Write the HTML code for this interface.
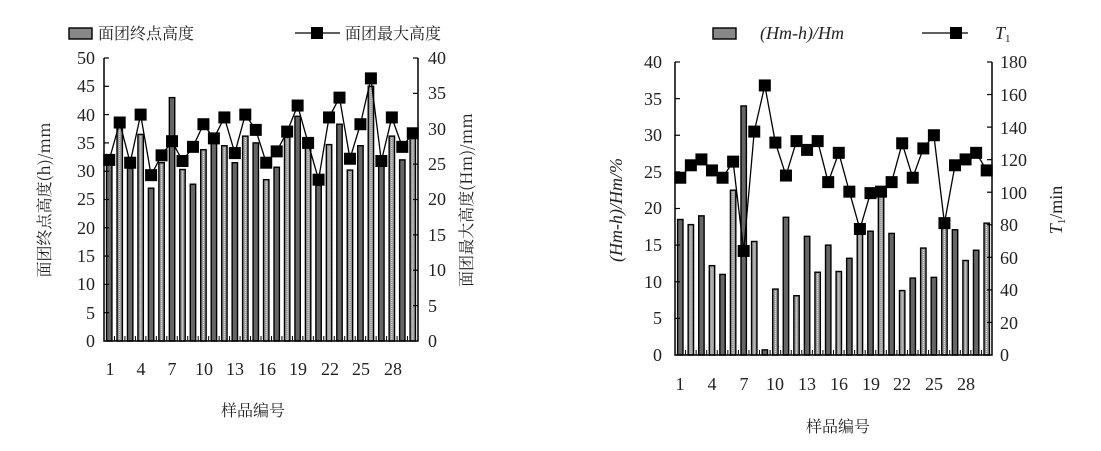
<!DOCTYPE html>
<html><head><meta charset="utf-8">
<style>
body{margin:0;background:#fff;}
svg{display:block;font-family:"Liberation Serif","Noto Serif CJK SC",serif;}
.t{font-size:18px;fill:#222;}
.c{font-family:"Noto Serif CJK SC","Noto Sans CJK SC",serif;font-size:16px;fill:#222;}
</style></head><body>
<svg id="s" width="1101" height="451" viewBox="0 0 1101 451" xmlns="http://www.w3.org/2000/svg">
<g id="g"></g>
<g class="t" text-anchor="end">
<text x="95" y="347">0</text><text x="95" y="319">5</text><text x="95" y="290">10</text><text x="95" y="262">15</text><text x="95" y="234">20</text><text x="95" y="205">25</text><text x="95" y="177">30</text><text x="95" y="149">35</text><text x="95" y="121">40</text><text x="95" y="92">45</text><text x="95" y="64">50</text>
</g>
<g class="t" text-anchor="start">
<text x="428" y="347">0</text><text x="428" y="312">5</text><text x="428" y="276">10</text><text x="428" y="241">15</text><text x="428" y="205">20</text><text x="428" y="170">25</text><text x="428" y="135">30</text><text x="428" y="99">35</text><text x="428" y="64">40</text>
</g>
<g class="t" text-anchor="middle">
<text x="110" y="375">1</text><text x="141" y="375">4</text><text x="172" y="375">7</text><text x="204" y="375">10</text><text x="235" y="375">13</text><text x="267" y="375">16</text><text x="298" y="375">19</text><text x="330" y="375">22</text><text x="361" y="375">25</text><text x="393" y="375">28</text>
</g>
<text class="c" x="253" y="416" text-anchor="middle">样品编号</text>
<text class="c" transform="translate(50,200) rotate(-90)" text-anchor="middle">面团终点高度(h)/mm</text>
<text class="c" transform="translate(472,200) rotate(-90)" text-anchor="middle">面团最大高度(Hm)/mm</text>
<text class="c" x="98" y="39">面团终点高度</text>
<text class="c" x="345" y="39">面团最大高度</text>
<g class="t" text-anchor="end">
<text x="662" y="361">0</text><text x="662" y="324">5</text><text x="662" y="288">10</text><text x="662" y="251">15</text><text x="662" y="214">20</text><text x="662" y="178">25</text><text x="662" y="141">30</text><text x="662" y="105">35</text><text x="662" y="68">40</text>
</g>
<g class="t" text-anchor="start">
<text x="1000" y="361">0</text><text x="1000" y="329">20</text><text x="1000" y="296">40</text><text x="1000" y="264">60</text><text x="1000" y="231">80</text><text x="1000" y="199">100</text><text x="1000" y="166">120</text><text x="1000" y="134">140</text><text x="1000" y="101">160</text><text x="1000" y="68">180</text>
</g>
<g class="t" text-anchor="middle">
<text x="680" y="390">1</text><text x="712" y="390">4</text><text x="744" y="390">7</text><text x="775" y="390">10</text><text x="807" y="390">13</text><text x="839" y="390">16</text><text x="871" y="390">19</text><text x="902" y="390">22</text><text x="934" y="390">25</text><text x="966" y="390">28</text>
</g>
<text class="c" x="838" y="432" text-anchor="middle">样品编号</text>
<text class="t" font-style="italic" transform="translate(622,210) rotate(-90)" text-anchor="middle">(Hm-h)/Hm/%</text>
<text class="t" transform="translate(1062,210) rotate(-90)" text-anchor="middle"><tspan font-style="italic">T</tspan><tspan font-size="11" dy="3">1</tspan><tspan dy="-3">/min</tspan></text>
<text class="t" font-style="italic" x="760" y="39">(Hm-h)/Hm</text>
<text class="t" x="995" y="39"><tspan font-style="italic">T</tspan><tspan font-size="11" dy="3">1</tspan></text>
</svg>
<script>
var NS="http://www.w3.org/2000/svg",g=document.getElementById("g");
function el(n,a){var e=document.createElementNS(NS,n);for(var k in a)e.setAttribute(k,a[k]);g.appendChild(e);return e;}
function chart(x0,x1,y0,y1,lmax,ltick,rticks,bars,line){
  var n=30,cw=(x1-x0)/n,ys=function(v){return y0-(v/lmax)*(y0-y1);};
  for(var i=0;i<n;i++){var cx=x0+cw*(i+0.5),h=y0-ys(bars[i]);
    el("rect",{x:cx-2.7,y:ys(bars[i]),width:5.4,height:h,fill:i%2?"#999":"#666",stroke:"#000","stroke-width":1.4});
    if(i%2)el("line",{x1:cx,y1:ys(bars[i])+2,x2:cx,y2:y0,stroke:"#eee","stroke-width":1,"stroke-dasharray":"1,1"});
    el("line",{x1:x0+cw*i+cw,y1:y0,x2:x0+cw*i+cw,y2:y0-5,stroke:"#000","stroke-width":1});
  }
  el("polyline",{points:line.map(function(v,i){return (x0+cw*(i+0.5))+","+ys(v);}).join(" "),fill:"none",stroke:"#000","stroke-width":1.3});
  line.forEach(function(v,i){var cx=x0+cw*(i+0.5);el("rect",{x:cx-6,y:ys(v)-6,width:12,height:12,fill:"#000"});});
  el("path",{d:"M"+x0+","+y1+"V"+y0+"H"+x1+"V"+y1,fill:"none",stroke:"#000","stroke-width":1.5});
  for(var k=1;k<=ltick;k++){var y=y0-(y0-y1)*k/ltick;el("line",{x1:x0,y1:y,x2:x0+5,y2:y,stroke:"#000","stroke-width":1.2});}
  for(var k=1;k<=rticks;k++){var y=y0-(y0-y1)*k/rticks;el("line",{x1:x1,y1:y,x2:x1-5,y2:y,stroke:"#000","stroke-width":1.2});}
}
chart(104,418,341,58,50,10,8,
[31.5,38,30.5,36.5,27,31.5,43,30.3,27.7,33.8,35.5,34.5,31.5,36.2,35,28.5,30.7,36,39.7,34.5,27.5,34.7,38.3,30.2,34.5,45,31.5,36.2,32,36.5],
[32,38.6,31.5,40,29.3,32.8,35.3,31.8,34.3,38.3,35.8,39.5,33.2,40,37.3,31.5,33.5,37,41.6,35,28.5,39.5,43,32.2,38.3,46.4,31.8,39.5,34.3,36.7]);
chart(675,992,355,62,40,8,9,
[18.5,17.8,19,12.2,11,22.5,34,15.5,0.7,9,18.8,8.1,16.2,11.3,15,11.4,13.2,17,16.9,22.5,16.6,8.8,10.5,14.6,10.6,18,17.1,12.9,14.3,18],
[24.2,25.9,26.7,25.2,24.2,26.4,14.2,30.5,36.8,29,24.5,29.2,28,29.2,23.6,27.6,22.3,17.2,22.1,22.3,23.6,28.9,24.2,28.2,30,18,25.9,26.7,27.6,25.2]);
el("rect",{x:69,y:28,width:23,height:11,fill:"#888",stroke:"#000","stroke-width":1.4});
el("line",{x1:295,y1:33,x2:340,y2:33,stroke:"#000","stroke-width":1.3});
el("rect",{x:311,y:27,width:12,height:12,fill:"#000"});
el("rect",{x:713,y:28,width:23,height:11,fill:"#888",stroke:"#000","stroke-width":1.4});
el("line",{x1:922,y1:33,x2:968,y2:33,stroke:"#000","stroke-width":1.3});
el("rect",{x:950,y:27,width:12,height:12,fill:"#000"});
</script>
</body></html>
